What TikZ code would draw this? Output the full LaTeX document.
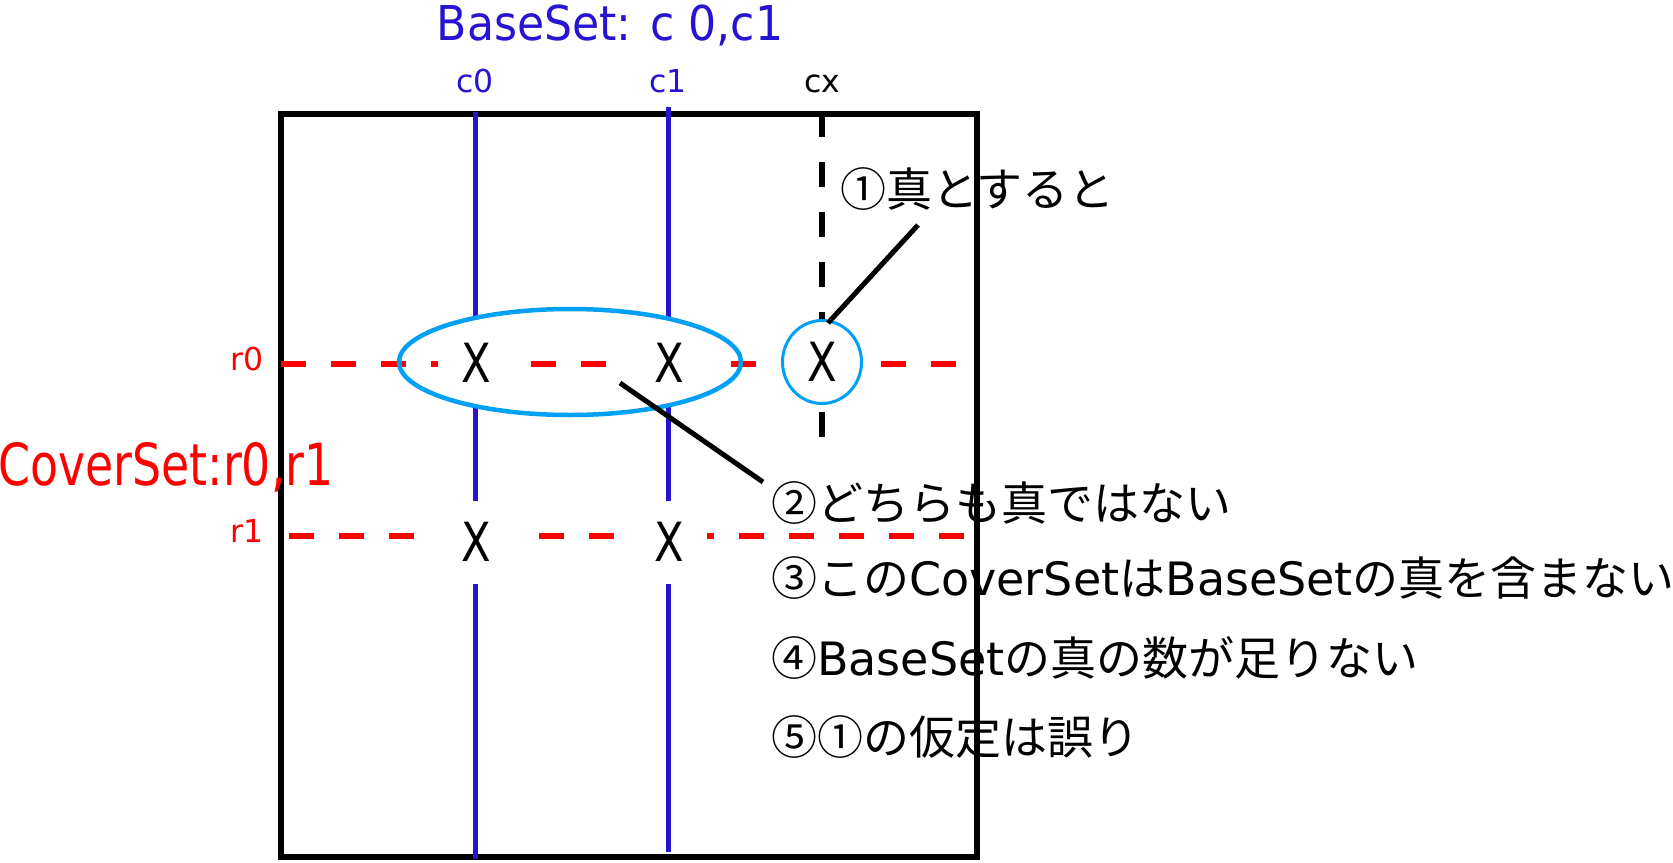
\documentclass[tikz,border=0pt]{standalone}
\usepackage{fontspec}
\setmainfont{DejaVu Sans}
\newfontfamily\jpfont{Noto Sans CJK JP}
\newfontfamily\latfont{DejaVu Sans}
\newcommand\latw[1]{{\latfont #1}}
\definecolor{bsblue}{RGB}{38,20,210}
\definecolor{elblue}{RGB}{0,160,245}
\begin{document}
\begin{tikzpicture}[x=1pt,y=-1pt,
  frame/.style={line width=5.5pt,black},
  colline/.style={line width=5pt,bsblue},
  rowline/.style={line width=6pt,red,dash pattern=on 25pt off 25pt},
  cxline/.style={line width=6pt,black,dash pattern=on 25pt off 25pt},
  xmark/.style={fill=white,inner sep=0pt,minimum width=76pt,minimum height=83pt,font=\fontsize{54}{60}\selectfont},
  xmarksmall/.style={xmark,minimum height=68pt},
  lead/.style={line width=5pt,black},
  jptext/.style={anchor=base west,inner sep=0pt,font=\jpfont\fontsize{46}{55}\selectfont},
  smalllab/.style={inner sep=0pt,font=\fontsize{31.5}{36}\selectfont},
]
\useasboundingbox (0,0) rectangle (1673,862);

% frame
\coordinate (fTL) at (281,114);
\coordinate (fBR) at (977,857);
\draw[frame] (fTL) rectangle (fBR);

% column lines
\coordinate (c0t) at (475,112);
\coordinate (c0b) at (475,859);
\coordinate (c1t) at (668,107);
\coordinate (c1b) at (668,852);
\draw[colline] (c0t) -- (c0b);
\draw[colline] (c1t) -- (c1b);

% cx dashed line
\coordinate (cxt) at (822,112);
\coordinate (cxb) at (822,438);
\draw[cxline] (cxt) -- (cxb);

% ellipse fill
\coordinate (ec) at (570,362);
\fill[white] (ec) ellipse [x radius=171, y radius=53];

% row lines
\coordinate (r0a) at (281,364);
\coordinate (r0b) at (956,364);
\coordinate (r1a) at (289,536);
\coordinate (r1b) at (964,536);
\draw[rowline] (r0a) -- (r0b);
\draw[rowline] (r1a) -- (r1b);

% circle fill
\coordinate (cc) at (822,362);
\fill[white] (cc) ellipse [x radius=39.5, y radius=41.5];

% X marks
\node[xmarksmall] (x00) at (476,363) {\scalebox{0.8}[1]{X}};
\node[xmarksmall] (x01) at (669,363) {\scalebox{0.8}[1]{X}};
\node[xmark] (x10) at (476,542) {\scalebox{0.8}[1]{X}};
\node[xmark] (x11) at (669,542) {\scalebox{0.8}[1]{X}};
\node[inner sep=0pt,font=\fontsize{54}{60}\selectfont] (xcx) at (822,362) {\scalebox{0.8}[1]{X}};

% ellipse and circle borders
\draw[elblue,line width=4.5pt] (ec) ellipse [x radius=171, y radius=53];
\draw[elblue,line width=3pt] (cc) ellipse [x radius=39.5, y radius=41.5];

% leaders
\coordinate (l1a) at (918,225);
\coordinate (l1b) at (828,323);
\coordinate (l2a) at (620,383);
\coordinate (l2b) at (763,482);
\draw[lead] (l1a) -- (l1b);
\draw[lead] (l2a) -- (l2b);

% labels
\node[anchor=base,inner sep=0pt,text=bsblue,font=\fontsize{48}{56}\selectfont] (title) at (610,40) {\scalebox{0.92}[1]{BaseSet: c 0,c1}};
\node[smalllab,anchor=base,text=bsblue] (lc0) at (475,92) {c0};
\node[smalllab,anchor=base,text=bsblue] (lc1) at (668,92) {c1};
\node[smalllab,anchor=base,text=black] (lcx) at (822,92) {cx};
\node[smalllab,anchor=base east,text=red] (lr0) at (264,370) {r0};
\node[smalllab,anchor=base east,text=red] (lr1) at (264,542) {r1};
\node[anchor=base west,inner sep=0pt,text=red,font=\fontsize{58}{66}\selectfont] (cover) at (-2,485) {\scalebox{0.79}[1]{CoverSet:r0,r1}};

% japanese texts
\node[jptext] (t1) at (840,206) {①真とすると};
\node[jptext] (t2) at (771,520) {②どちらも真ではない};
\node[jptext] (t3) at (771,595) {③この\latw{CoverSet}は\latw{BaseSet}の真を含まない};
\node[jptext] (t4) at (771,675) {④\latw{BaseSet}の真の数が足りない};
\node[jptext] (t5) at (771,754) {⑤①の仮定は誤り};
\end{tikzpicture}
\end{document}
